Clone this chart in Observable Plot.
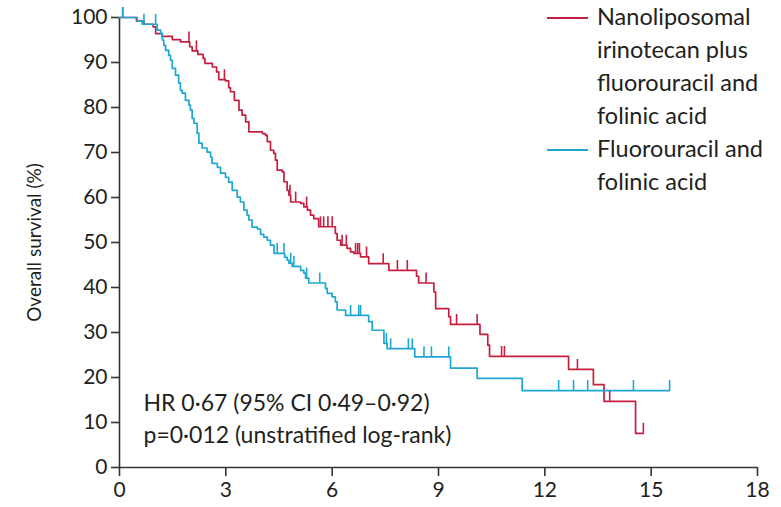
<!DOCTYPE html>
<html>
<head>
<meta charset="utf-8">
<script src="https://cdn.jsdelivr.net/npm/d3@7"></script>
<script src="https://cdn.jsdelivr.net/npm/@observablehq/plot@0.6"></script>
<style>
  body { margin: 0; background: #fff; }
  #wrap { position: relative; width: 781px; height: 507px; font-family: Lato, "Open Sans", sans-serif; color: #231f20; }
  #legend { position: absolute; left: 547px; top: 0px; font-size: 23.5px; line-height: 33px; }
  .item { position: relative; padding-left: 50px; }
  .sw { position: absolute; left: 0; top: 17px; width: 41px; height: 2px; }
</style>
</head>
<body>
<div id="wrap">
  <div id="chart"></div>
  <div id="legend"></div>
</div>
<script>
// Series names
const seriesNames = ["Nanoliposomal irinotecan plus fluorouracil and folinic acid", "Fluorouracil and folinic acid"];
const legendLines = [["Nanoliposomal", "irinotecan plus", "fluorouracil and", "folinic acid"], ["Fluorouracil and", "folinic acid"]];
const seriesColors = ["#c41f3e", "#1ea7d1"];

// Nal-IRI + 5-FU/LV: step times (months) and survival (%)
const redTimes = [0, 0.48, 0.69, 0.95, 1.02, 1.20, 1.49, 1.72, 1.98, 2.05, 2.21, 2.36, 2.41, 2.62, 2.74, 2.80, 2.99, 3.08, 3.13, 3.24, 3.37, 3.46, 3.56, 3.65, 4.03, 4.12, 4.17, 4.26, 4.35, 4.40, 4.45, 4.59, 4.64, 4.73, 4.78, 4.83, 5.11, 5.20, 5.30, 5.39, 5.48, 5.62, 6.09, 6.14, 6.24, 6.42, 6.52, 6.61, 6.80, 7.03, 7.60, 8.38, 8.44, 8.87, 8.92, 9.29, 9.34, 10.17, 10.39, 10.44, 12.67, 13.37, 13.67, 14.56, 14.78];
const redSurv = [100, 99.2, 98.5, 97.9, 96.4, 95.8, 95.1, 94.6, 93.5, 92.6, 91.8, 90.9, 89.8, 89.0, 87.9, 86.2, 85.9, 84.4, 83.5, 81.6, 79.4, 78.3, 76.8, 74.6, 74.2, 73.8, 72.4, 70.5, 69.8, 68.3, 66.1, 65.7, 63.5, 61.6, 60.5, 59.0, 58.7, 57.9, 57.2, 56.1, 55.3, 53.5, 52.0, 50.5, 49.4, 48.7, 47.9, 47.6, 46.8, 45.3, 43.8, 42.5, 41.0, 39.0, 35.3, 33.5, 31.8, 29.6, 27.2, 24.7, 21.8, 18.4, 14.7, 7.6, 7.6];
const redCensor = [0.09, 1.96, 2.17, 2.96, 4.81, 4.97, 5.28, 5.67, 5.76, 5.88, 6.0, 6.28, 6.40, 6.66, 6.72, 6.77, 6.97, 7.44, 7.84, 8.12, 8.65, 9.51, 10.09, 10.78, 10.86, 12.92, 13.83, 14.78];

// 5-FU/LV
const blueTimes = [0, 0.50, 0.64, 1.06, 1.16, 1.21, 1.25, 1.30, 1.39, 1.44, 1.49, 1.58, 1.67, 1.72, 1.77, 1.86, 1.96, 2.00, 2.05, 2.10, 2.19, 2.24, 2.33, 2.47, 2.57, 2.61, 2.76, 2.85, 2.99, 3.08, 3.18, 3.32, 3.41, 3.51, 3.60, 3.65, 3.74, 3.89, 3.98, 4.07, 4.17, 4.26, 4.36, 4.66, 4.73, 4.78, 4.87, 5.11, 5.20, 5.25, 5.34, 5.81, 5.86, 6.00, 6.09, 6.14, 6.38, 7.03, 7.13, 7.46, 7.55, 8.33, 9.34, 10.09, 11.36, 15.52];
const blueSurv = [100, 99.2, 98.5, 97.2, 96.5, 95.0, 93.8, 92.7, 91.6, 90.5, 88.7, 87.2, 85.4, 83.8, 83.2, 81.6, 80.5, 79.4, 77.6, 76.5, 74.3, 72.1, 71.0, 70.1, 69.0, 67.6, 66.7, 65.4, 64.5, 63.4, 61.6, 60.1, 59.0, 57.2, 56.1, 55.0, 53.4, 53.0, 51.8, 51.2, 50.5, 49.4, 47.6, 46.7, 46.1, 45.4, 44.7, 43.8, 43.2, 42.1, 41.0, 39.8, 38.7, 37.9, 36.8, 35.0, 33.8, 32.4, 30.5, 27.6, 26.4, 24.6, 22.1, 19.8, 17.1, 17.1];
const blueCensor = [0.09, 0.69, 1.02, 4.45, 4.64, 4.83, 4.92, 5.28, 5.65, 6.52, 6.75, 6.80, 7.53, 7.65, 8.15, 8.26, 8.59, 8.80, 9.29, 12.39, 12.81, 13.21, 14.50, 15.52];

const xTicks = [0, 3, 6, 9, 12, 15, 18];
const yTicks = [0, 10, 20, 30, 40, 50, 60, 70, 80, 90, 100];
const annotations = ["HR 0·67 (95% CI 0·49–0·92)", "p=0·012 (unstratified log-rank)"];

const TICK = 2.2; // censor tick length in % units
const ink = "#231f20";
const axisInk = "#333";

function curve(times, surv, name) { return times.map((t, i) => ({t, s: surv[i], name})); }
function stepAt(times, surv, t) { let s = surv[0]; for (let i = 0; i < times.length; i++) if (times[i] <= t) s = surv[i]; return s; }
function censors(times, surv, cs, name) { return cs.map(t => ({t, s: stepAt(times, surv, t), name})); }

const lines = [...curve(redTimes, redSurv, seriesNames[0]), ...curve(blueTimes, blueSurv, seriesNames[1])];
const cens = [...censors(redTimes, redSurv, redCensor, seriesNames[0]), ...censors(blueTimes, blueSurv, blueCensor, seriesNames[1])];

const plot = Plot.plot({
  width: 781,
  height: 507,
  marginLeft: 119,
  marginRight: 24,
  marginTop: 17,
  marginBottom: 40,
  style: {fontFamily: "Lato, 'Open Sans', sans-serif", fontSize: "21px", color: ink, background: "#fff"},
  x: {domain: [0, 18]},
  y: {domain: [0, 100]},
  color: {domain: seriesNames, range: seriesColors},
  marks: [
    Plot.axisX({ticks: xTicks, tickSize: 9, tickPadding: 6, stroke: axisInk, strokeWidth: 1.6, label: null, fill: ink}),
    Plot.axisY({ticks: yTicks, tickSize: 8, tickPadding: 4, stroke: axisInk, strokeWidth: 1.6, label: "Overall survival (%)", labelAnchor: "center", labelArrow: "none", labelOffset: 92, fill: ink}),
    Plot.ruleX([0], {stroke: axisInk, strokeWidth: 1.6}),
    Plot.ruleY([0], {stroke: axisInk, strokeWidth: 1.6}),
    Plot.line(lines, {x: "t", y: "s", z: "name", stroke: "name", curve: "step-after", strokeWidth: 1.7}),
    Plot.ruleX(cens, {x: "t", y1: "s", y2: d => d.s + TICK, stroke: "name", strokeWidth: 1.6}),
    Plot.text([annotations[0]], {frameAnchor: "bottom-left", dx: 24, dy: -64, textAnchor: "start", lineAnchor: "middle", fill: ink, fontSize: 23}),
    Plot.text([annotations[1]], {frameAnchor: "bottom-left", dx: 24, dy: -32, textAnchor: "start", lineAnchor: "middle", fill: ink, fontSize: 23})
  ]
});
document.getElementById("chart").appendChild(plot);
d3.select(plot).selectAll('g[aria-label="y-axis label"] text').attr("font-size", 19);

const legend = document.getElementById("legend");
legendLines.forEach((ls, i) => {
  const item = document.createElement("div");
  item.className = "item";
  const sw = document.createElement("div");
  sw.className = "sw";
  sw.style.background = seriesColors[i];
  item.appendChild(sw);
  ls.forEach(l => { const d = document.createElement("div"); d.textContent = l; item.appendChild(d); });
  legend.appendChild(item);
});
</script>
</body>
</html>
